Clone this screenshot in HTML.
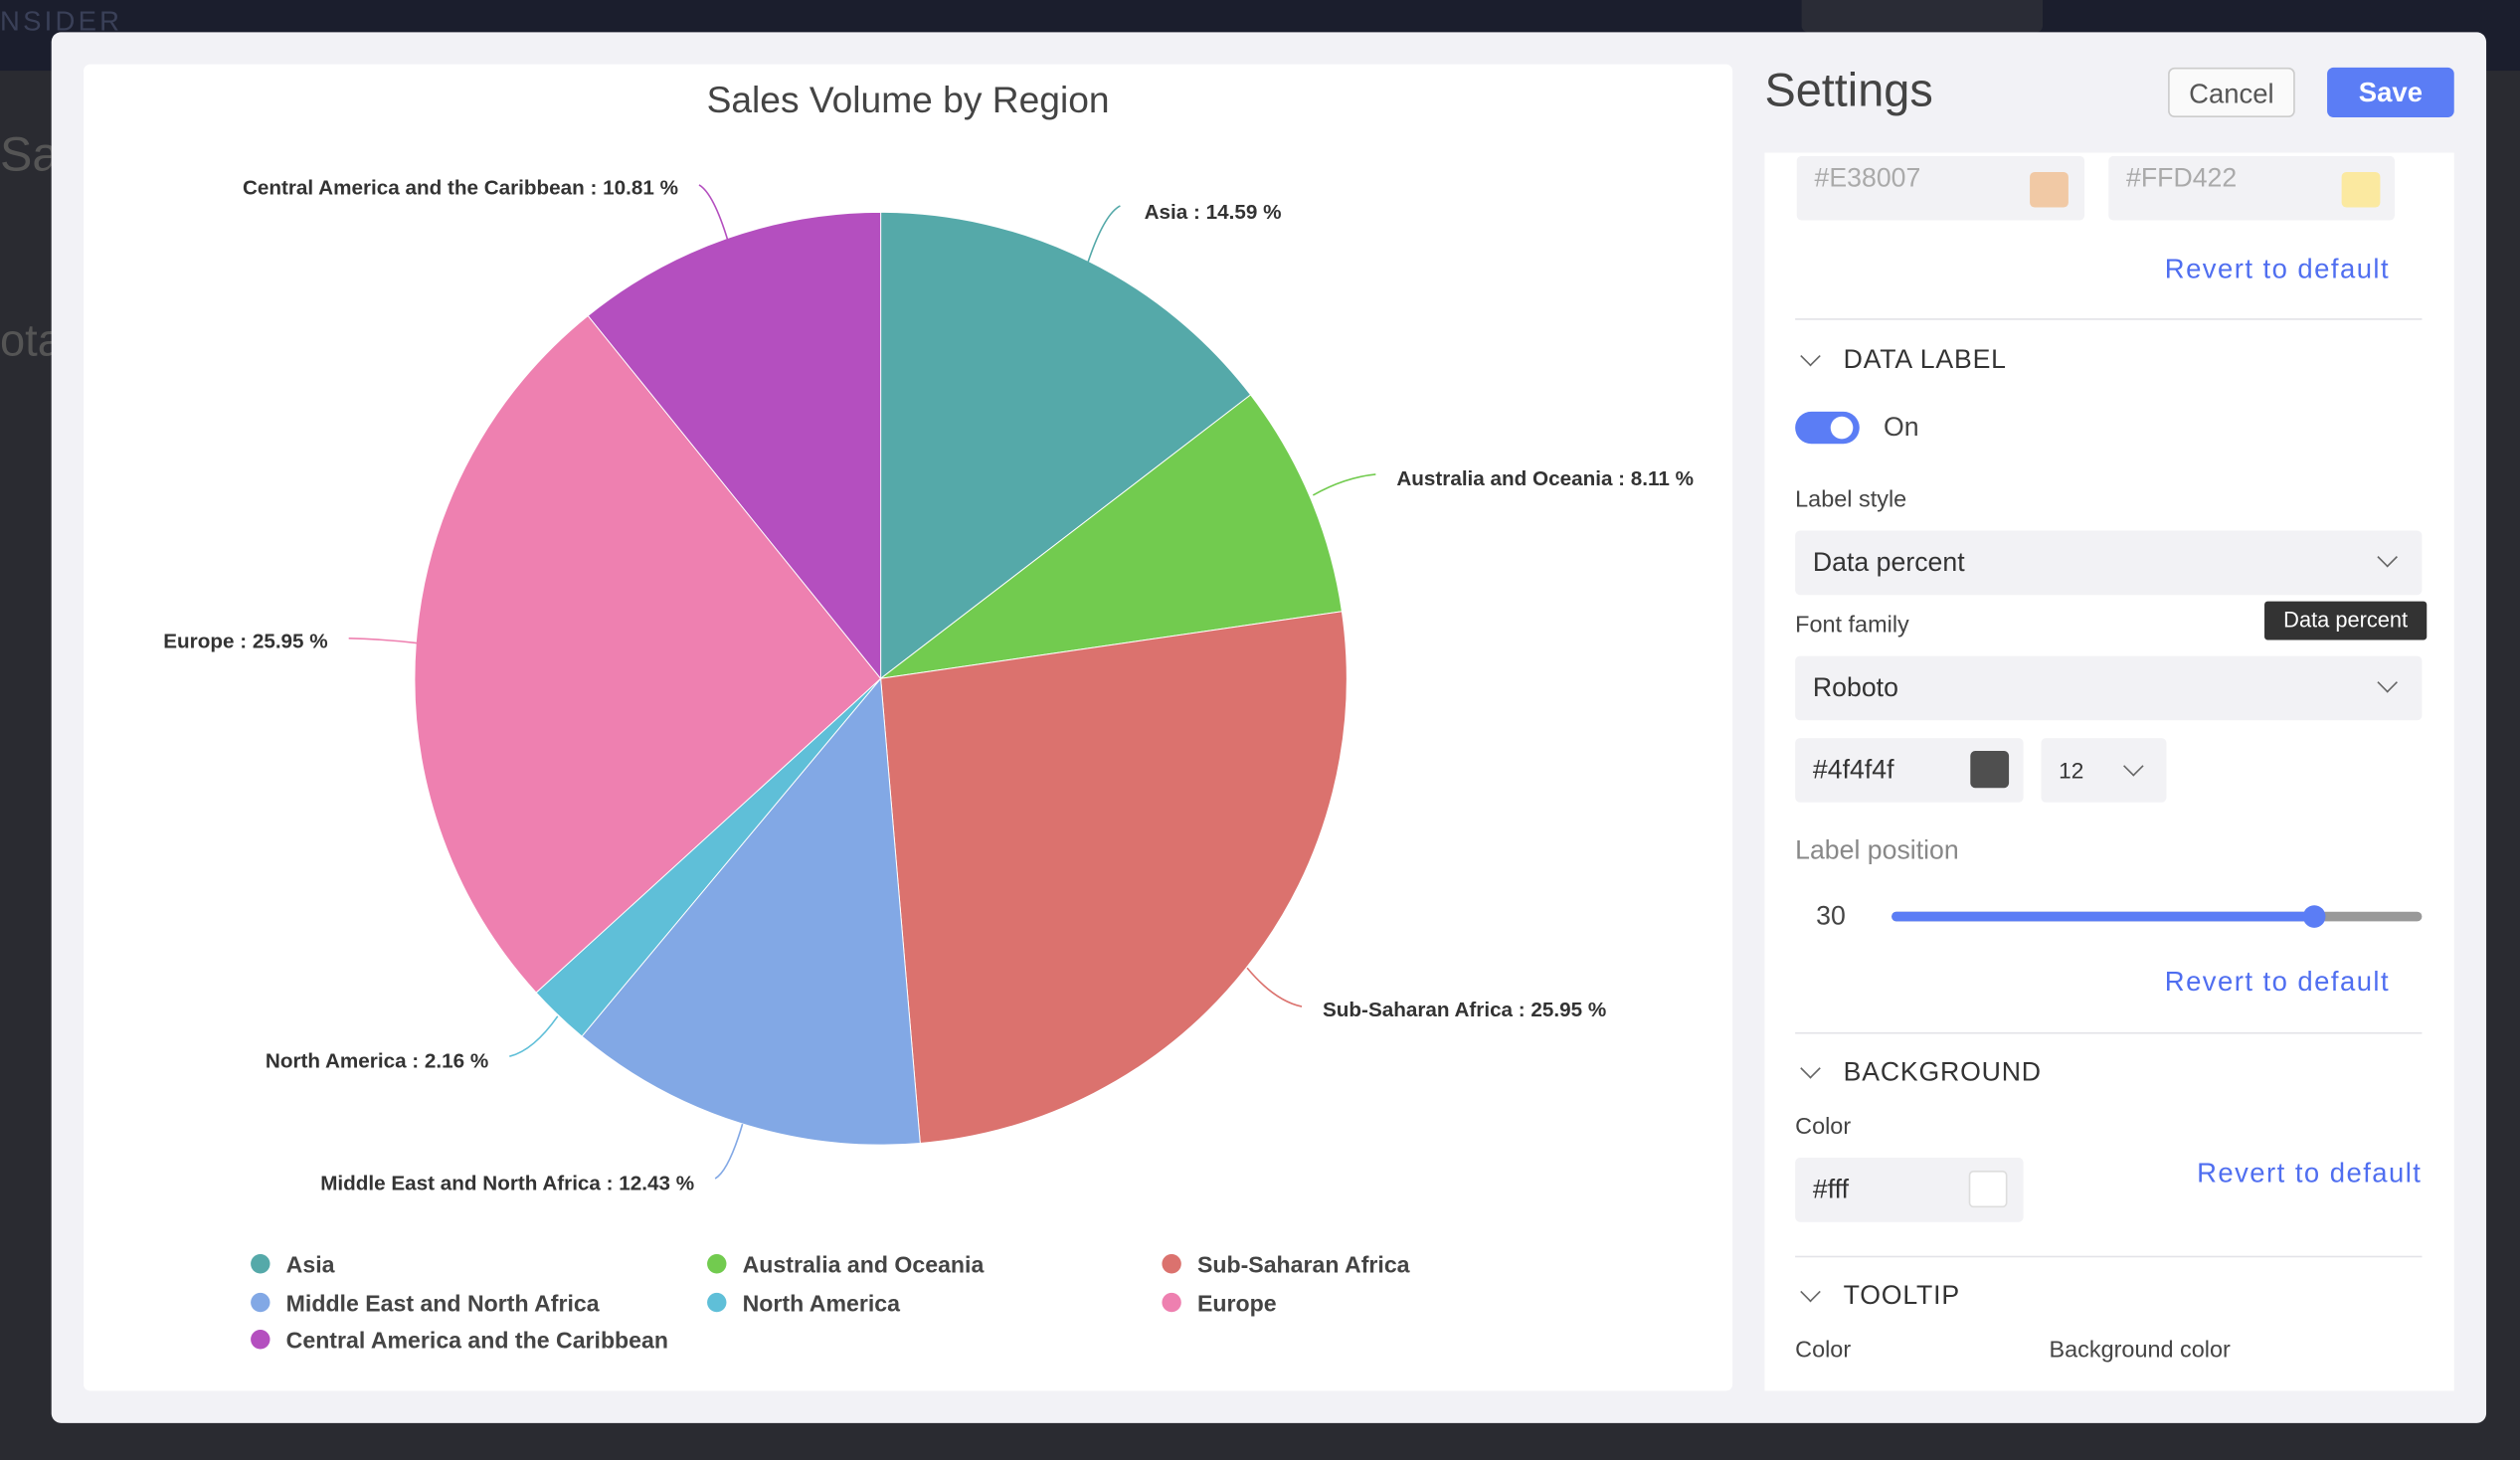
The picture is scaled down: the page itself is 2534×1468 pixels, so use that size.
<!DOCTYPE html>
<html><head><meta charset="utf-8"><style>
html,body{margin:0;padding:0;width:2534px;height:1468px;overflow:hidden;background:#2a2b31;}
#s{position:absolute;left:0;top:0;width:1568px;height:908px;transform:scale(1.61607,1.61674);transform-origin:0 0;font-family:"Liberation Sans",sans-serif;}
.a{position:absolute;white-space:nowrap;}
.top{left:0;top:0;width:1568px;height:44px;background:#1b1e2d;}
.modal{left:32px;top:20px;width:1515px;height:865px;background:#f2f2f6;border-radius:6px;}
.chart{left:52px;top:40px;width:1026px;height:825px;background:#fff;border-radius:4px;}
.card{left:1098px;top:95px;width:429px;height:770px;background:#fff;}
.btn{border-radius:4px;font-size:17px;text-align:center;line-height:31px;height:31px;width:79px;top:42px;}
.blue{color:#4f6ef0;font-size:17px;letter-spacing:0.9px;}
.lbl{color:#444;font-size:14.5px;}
.box{background:#f2f2f5;border-radius:3px;height:40px;color:#333;font-size:16.5px;line-height:40px;box-sizing:border-box;padding-left:11px;}
.hd{font-size:16.5px;color:#333;letter-spacing:0.5px;font-weight:500;}
.div{height:1px;background:#e3e3e8;left:1117px;width:390px;}
.chev{width:8px;height:8px;border-right:1.5px solid #666;border-bottom:1.5px solid #666;transform:rotate(45deg);}
</style></head><body><div id="s">
<div class="a top"></div>
<div class="a" style="left:0;top:4px;color:#3a4058;font-size:17px;letter-spacing:2px;">NSIDER</div>
<div class="a" style="left:1121px;top:0;width:150px;height:20px;background:#2a2c36;border-radius:0 0 4px 4px;"></div>
<div class="a" style="left:0;top:80px;color:#555;font-size:30px;">Sal</div>
<div class="a" style="left:0;top:196px;color:#555;font-size:28px;">ota</div>
<div class="a modal"></div>
<div class="a chart"></div>
<div class="a" style="left:52px;width:1026px;top:49px;text-align:center;font-size:23px;color:#444;">Sales Volume by Region</div>
<svg class="a" style="left:0;top:0" width="1568" height="908" id="pie"></svg>
<div class="a" style="left:1098px;top:41px;font-size:29px;color:#444;">Settings</div>
<div class="a btn" style="left:1349px;background:#fafafa;border:1px solid #ccc;color:#555;box-sizing:border-box;">Cancel</div>
<div class="a btn" style="left:1448px;background:#5b7df5;color:#fff;font-weight:bold;">Save</div>
<div class="a card"></div>
<div class="a box" style="left:1118px;top:97px;width:179px;height:40px;color:#aaa;line-height:28px;">#E38007</div>
<div class="a" style="left:1263px;top:107px;width:24px;height:22px;background:#f1c9a5;border-radius:3px;"></div>
<div class="a box" style="left:1312px;top:97px;width:178px;color:#aaa;line-height:28px;">#FFD422</div>
<div class="a" style="left:1457px;top:107px;width:24px;height:22px;background:#fbe9a0;border-radius:3px;"></div>
<div class="a blue" style="right:81px;top:158px;">Revert to default</div>
<div class="a div" style="top:198px;"></div>
<div class="a chev" style="left:1122px;top:217px;"></div>
<div class="a hd" style="left:1147px;top:215px;">DATA LABEL</div>
<div class="a" style="left:1117px;top:256px;width:40px;height:20px;border-radius:10px;background:#5b7df5;"></div>
<div class="a" style="left:1139px;top:259px;width:14px;height:14px;border-radius:7px;background:#fff;"></div>
<div class="a" style="left:1172px;top:257px;font-size:16.5px;color:#444;">On</div>
<div class="a lbl" style="left:1117px;top:303px;">Label style</div>
<div class="a box" style="left:1117px;top:330px;width:390px;">Data percent</div>
<div class="a chev" style="left:1481px;top:342px;"></div>
<div class="a lbl" style="left:1117px;top:381px;">Font family</div>
<div class="a box" style="left:1117px;top:408px;width:390px;">Roboto</div>
<div class="a chev" style="left:1481px;top:420px;"></div>
<div class="a" style="left:1409px;top:374px;width:101px;height:24px;background:#333;color:#fff;font-size:13.5px;line-height:24px;text-align:center;border-radius:2px;">Data percent</div>
<div class="a box" style="left:1117px;top:459px;width:142px;">#4f4f4f</div>
<div class="a" style="left:1226px;top:467px;width:24px;height:23px;background:#4f4f4f;border-radius:3px;"></div>
<div class="a box" style="left:1270px;top:459px;width:78px;font-size:14px;">12</div>
<div class="a chev" style="left:1323px;top:472px;"></div>
<div class="a" style="left:1117px;top:520px;font-size:16.5px;color:#888;">Label position</div>
<div class="a" style="left:1130px;top:561px;font-size:16.5px;color:#444;">30</div>
<div class="a" style="left:1177px;top:567px;width:330px;height:6px;background:#999;border-radius:3px;"></div>
<div class="a" style="left:1177px;top:567px;width:263px;height:6px;background:#5b7df5;border-radius:3px;"></div>
<div class="a" style="left:1433px;top:563px;width:14px;height:14px;background:#5b7df5;border-radius:7px;"></div>
<div class="a blue" style="right:81px;top:601px;">Revert to default</div>
<div class="a div" style="top:642px;"></div>
<div class="a chev" style="left:1122px;top:660px;"></div>
<div class="a hd" style="left:1147px;top:658px;">BACKGROUND</div>
<div class="a lbl" style="left:1117px;top:693px;">Color</div>
<div class="a box" style="left:1117px;top:720px;width:142px;">#fff</div>
<div class="a" style="left:1225px;top:728px;width:24px;height:23px;background:#fff;border:1px solid #ddd;border-radius:3px;box-sizing:border-box;"></div>
<div class="a blue" style="right:61px;top:720px;">Revert to default</div>
<div class="a div" style="top:781px;"></div>
<div class="a chev" style="left:1122px;top:799px;"></div>
<div class="a hd" style="left:1147px;top:797px;">TOOLTIP</div>
<div class="a lbl" style="left:1117px;top:832px;">Color</div>
<div class="a lbl" style="left:1275px;top:832px;">Background color</div>
</div>
<script>
var d=[["Asia",14.59,"#55a9a9"],["Australia and Oceania",8.11,"#72cb4f"],["Sub-Saharan Africa",25.95,"#db726e"],["Middle East and North Africa",12.43,"#82a8e5"],["North America",2.16,"#5fbfd8"],["Europe",25.95,"#ee80b0"],["Central America and the Caribbean",10.81,"#b44fbf"]];
var cx=548,cy=422,r=290,a=-Math.PI/2,s="";
d.forEach(function(e){var b=a+e[1]/100*2*Math.PI;
var x1=cx+r*Math.cos(a),y1=cy+r*Math.sin(a),x2=cx+r*Math.cos(b),y2=cy+r*Math.sin(b);
s+='<path d="M'+cx+' '+cy+'L'+x1+' '+y1+'A'+r+' '+r+' 0 '+(b-a>Math.PI?1:0)+' 1 '+x2+' '+y2+'Z" fill="'+e[2]+'" stroke="#fff" stroke-width="0.6"/>';a=b;});
var L=[["Asia : 14.59 %",677,163,697,128,712,136,"start",0],["Australia and Oceania : 8.11 %",817,308,856,295,869,302,"start",1],["Sub-Saharan Africa : 25.95 %",776,602,810,626,823,632,"start",2],["Middle East and North Africa : 12.43 %",462,699,445,733,432,740,"end",3],["North America : 2.16 %",347,632,317,657,304,664,"end",4],["Europe : 25.95 %",260,400,217,397,204,403,"end",5],["Central America and the Caribbean : 10.81 %",453,150,435,115,422,121,"end",6]];
L.forEach(function(l){var c=d[l[8]][2];
var qx=l[1]+(l[3]-l[1])*0.5, qy=l[2]+(l[4]-l[2])*0.85;
s+='<path d="M'+l[1]+' '+l[2]+' Q'+qx+' '+qy+' '+l[3]+' '+l[4]+'" fill="none" stroke="'+c+'" stroke-width="1"/>';
s+='<text x="'+l[5]+'" y="'+l[6]+'" text-anchor="'+l[7]+'" font-size="12.8" font-weight="bold" fill="#333" font-family="Liberation Sans">'+l[0]+'</text>';});
var G=[[0,162,786],[1,446,786],[2,729,786],[3,162,810],[4,446,810],[5,729,810],[6,162,833]];
G.forEach(function(g){s+='<circle cx="'+g[1]+'" cy="'+g[2]+'" r="6" fill="'+d[g[0]][2]+'"/><text x="'+(g[1]+16)+'" y="'+(g[2]+5.5)+'" font-size="14.3" font-weight="bold" fill="#444" font-family="Liberation Sans">'+d[g[0]][0]+'</text>';});
document.getElementById("pie").innerHTML=s;
</script>
</body></html>
